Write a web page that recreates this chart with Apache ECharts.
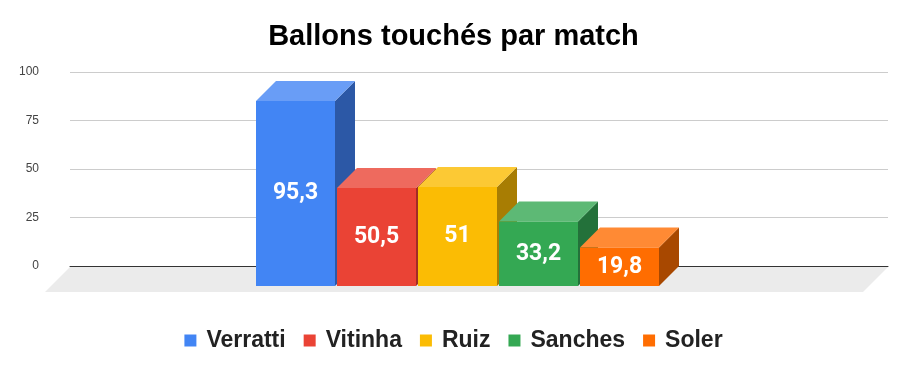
<!DOCTYPE html>
<html>
<head>
<meta charset="utf-8">
<script src="https://cdn.jsdelivr.net/npm/echarts@6/dist/echarts.min.js"></script>
<style>html,body{margin:0;padding:0;background:#fff;}#c{width:907px;height:371px;}</style>
</head>
<body>
<div id="c"></div>
<script>
const titleText = 'Ballons touchés par match';
const categories = ['Ballons touchés par match'];
const players = ['Verratti', 'Vitinha', 'Ruiz', 'Sanches', 'Soler'];
const values = [95.3, 50.5, 51, 33.2, 19.8];
const frontColors = ['#4285F4', '#EA4335', '#FBBC04', '#34A853', '#FF6D01'];
const topColors = ['#699DF6', '#EE6A5E', '#FCC934', '#5DB975', '#FF8A34'];
const sideColors = ['#2C58A6', '#A12D24', '#A87D03', '#23713A', '#A84800'];
const yTicks = { min: 0, max: 100, interval: 25 };

const BAR_W = 79, BAR_GAP = 2, DEPTH = 20, FLOOR_DEPTH = 25;

function fmt(v) { return String(v).replace('.', ','); }

function barRenderer(i) {
  return function (params, api) {
    const n = players.length;
    const base = api.coord([0, 0]);
    const top = api.coord([0, api.value(1)]);
    const total = n * BAR_W + (n - 1) * BAR_GAP;
    const bx = base[0] - 1.5 - total / 2 + i * (BAR_W + BAR_GAP);
    const fx = bx - DEPTH;
    const fTop = top[1] + DEPTH;
    const fBot = base[1] + DEPTH;
    return {
      type: 'group',
      children: [
        { type: 'polygon', shape: { points: [[fx + BAR_W, fTop], [fx + BAR_W + DEPTH, fTop - DEPTH], [fx + BAR_W + DEPTH, fBot - DEPTH], [fx + BAR_W, fBot]] }, style: { fill: sideColors[i] } },
        { type: 'polygon', shape: { points: [[fx, fTop], [fx + DEPTH, fTop - DEPTH], [fx + BAR_W + DEPTH, fTop - DEPTH], [fx + BAR_W, fTop]] }, style: { fill: topColors[i] } },
        { type: 'rect', shape: { x: fx, y: fTop, width: BAR_W, height: fBot - fTop }, style: { fill: frontColors[i] } },
        { type: 'text', x: fx + BAR_W / 2, y: (fTop + fBot) / 2, style: { text: fmt(api.value(1)), fill: '#fff', font: 'bold 23px Roboto, "Liberation Sans", Arial', align: 'center', verticalAlign: 'middle' } }
      ]
    };
  };
}

const series = [{
  type: 'custom',
  name: '__floor',
  silent: true,
  data: [[0, 0]],
  renderItem: function (params, api) {
    const cs = params.coordSys;
    const y0 = api.coord([0, 0])[1];
    const x0 = cs.x, x1 = cs.x + cs.width;
    return {
      type: 'polygon',
      shape: { points: [[x0, y0 + 1], [x1, y0 + 1], [x1 - FLOOR_DEPTH, y0 + 1 + FLOOR_DEPTH], [x0 - FLOOR_DEPTH, y0 + 1 + FLOOR_DEPTH]] },
      style: { fill: '#EBEBEB' }
    };
  }
}];
players.forEach(function (p, i) {
  series.push({
    type: 'custom',
    name: p,
    itemStyle: { color: frontColors[i] },
    data: [[0, values[i]]],
    renderItem: barRenderer(i),
    z: 3 + i
  });
});

const chart = echarts.init(document.getElementById('c'), null, { renderer: 'canvas' });
chart.setOption({
  animation: false,
  backgroundColor: '#fff',
  title: {
    text: titleText, left: 'center', top: 17,
    textStyle: { fontFamily: '"Liberation Sans", Arial', fontWeight: 'bold', fontSize: 29, color: '#000' }
  },
  grid: { left: 70, right: 19, top: 72, bottom: 105, containLabel: false },
  xAxis: {
    type: 'category', data: categories,
    axisLine: { show: true, lineStyle: { color: '#333', width: 1 } },
    axisTick: { show: false }, axisLabel: { show: false }, splitLine: { show: false }
  },
  yAxis: {
    type: 'value', min: yTicks.min, max: yTicks.max, interval: yTicks.interval,
    axisLine: { show: false }, axisTick: { show: false },
    axisLabel: { margin: 31, color: '#444', fontSize: 12, fontFamily: '"Liberation Sans", Arial' },
    splitLine: { lineStyle: { color: '#CCCCCC', width: 1 } }
  },
  legend: {
    data: players, left: 'center', top: 324,
    icon: 'rect', itemWidth: 12, itemHeight: 12, itemGap: 18,
    textStyle: { fontFamily: '"Liberation Sans", Arial', fontWeight: 'bold', fontSize: 23, color: '#222', padding: [0, 0, 0, 5] }
  },
  series: series
});
</script>
</body>
</html>
